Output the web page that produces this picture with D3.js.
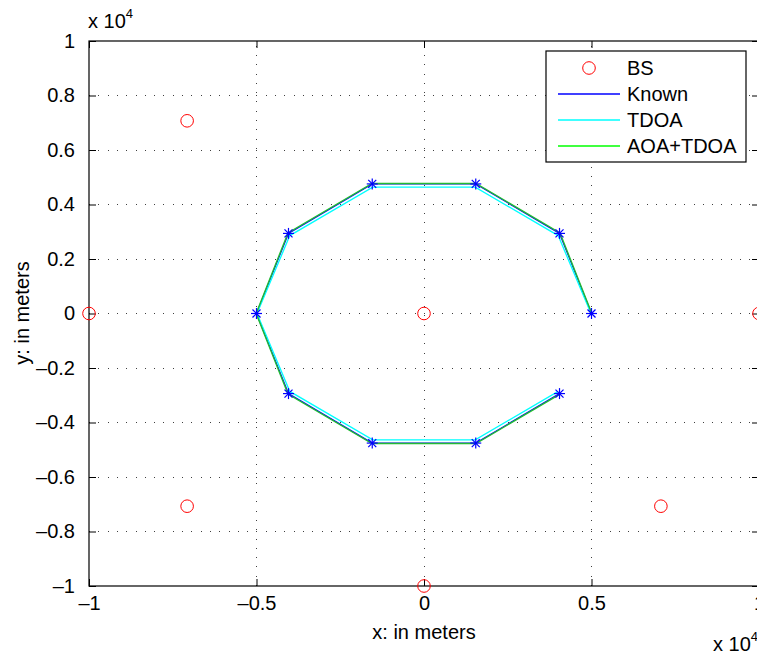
<!DOCTYPE html>
<html><head><meta charset="utf-8">
<script src="https://cdn.jsdelivr.net/npm/d3@7"></script>
<style>body{margin:0;background:#fff;overflow:hidden}svg{display:block}text{font-family:"Liberation Sans",Arial,sans-serif}</style>
</head><body>
<script>
const bsX = [0, -10000, 10000, -7071, 7071, -7071, 7071, 0];
const bsY = [0, 0, 0, 7071, 7071, -7071, -7071, -10000];
const knownX = [5000, 4045, 1545, -1545, -4045, -5000, -4045, -1545, 1545, 4045];
const knownY = [0, 2939, 4755, 4755, 2939, 0, -2939, -4755, -4755, -2939];
const tdoaX = [4985, 4005, 1530, -1530, -4005, -4985, -4005, -1530, 1530, 4005];
const tdoaY = [0, 2860, 4635, 4635, 2860, 0, -2860, -4635, -4635, -2860];
const aoaX = [5010, 4060, 1550, -1550, -4060, -5010, -4060, -1550, 1550, 4060];
const aoaY = [0, 2955, 4770, 4770, 2955, 0, -2955, -4770, -4770, -2955];
const xTicks = [-10000, -5000, 0, 5000, 10000];
const xTickLabels = ["\u20131", "\u20130.5", "0", "0.5", "1"];
const yTicks = [-10000, -8000, -6000, -4000, -2000, 0, 2000, 4000, 6000, 8000, 10000];
const yTickLabels = ["\u20131", "\u20130.8", "\u20130.6", "\u20130.4", "\u20130.2", "0", "0.2", "0.4", "0.6", "0.8", "1"];
const legendNames = ["BS", "Known", "TDOA", "AOA+TDOA"];
const colors = {bs: "#ff0000", known: "#0000ff", tdoa: "#00ffff", aoa: "#00ff00"};

const W = 757, H = 653, FS = 20;
const L = 89, R = 759, T = 41, B = 586;
const x = d3.scaleLinear().domain([-10000, 10000]).range([L, R]);
const y = d3.scaleLinear().domain([-10000, 10000]).range([B, T]);

const svg = d3.select("body").append("svg").attr("width", W).attr("height", H);

// grid
const grid = svg.append("g").attr("stroke", "#000").attr("stroke-width", 1).attr("stroke-dasharray", "1,8.3").attr("opacity", 0.75);
xTicks.slice(1, -1).forEach(v => grid.append("line").attr("x1", x(v)).attr("x2", x(v)).attr("y1", B).attr("y2", T).attr("shape-rendering", "crispEdges"));
yTicks.slice(1, -1).forEach(v => grid.append("line").attr("x1", L).attr("x2", R).attr("y1", y(v)).attr("y2", y(v)).attr("shape-rendering", "crispEdges"));

// axes with inward ticks
const axB = svg.append("g").attr("transform", `translate(0,${B})`).call(d3.axisBottom(x).tickValues(xTicks).tickSize(-7).tickPadding(10).tickFormat((d, i) => xTickLabels[i]));
const axT = svg.append("g").attr("transform", `translate(0,${T})`).call(d3.axisTop(x).tickValues(xTicks).tickSize(-7).tickFormat(""));
const axL = svg.append("g").attr("transform", `translate(${L},0)`).call(d3.axisLeft(y).tickValues(yTicks).tickSize(-7).tickPadding(14).tickFormat((d, i) => yTickLabels[i]));
const axR = svg.append("g").attr("transform", `translate(${R},0)`).call(d3.axisRight(y).tickValues(yTicks).tickSize(-7).tickFormat(""));
[axB, axT, axL, axR].forEach(a => {
  a.selectAll(".domain").remove();
  a.selectAll("line").attr("stroke", "#000");
  a.selectAll("text").attr("font-size", FS).attr("fill", "#000").attr("font-family", '"Liberation Sans",Arial,sans-serif');
});
svg.append("rect").attr("x", L).attr("y", T).attr("width", R - L).attr("height", B - T).attr("fill", "none").attr("stroke", "#000").attr("stroke-width", 1.2);

// data
const line = d3.line().x(d => x(d[0])).y(d => y(d[1]));
const zip = (a, b) => a.map((v, i) => [v, b[i]]);
svg.append("g").selectAll("circle").data(zip(bsX, bsY)).join("circle")
  .attr("cx", d => x(d[0])).attr("cy", d => y(d[1])).attr("r", 6.3)
  .attr("fill", "none").attr("stroke", colors.bs).attr("stroke-width", 1);
svg.append("path").attr("d", line(zip(knownX, knownY))).attr("fill", "none").attr("stroke", colors.known).attr("stroke-width", 1.2);
svg.append("path").attr("d", line(zip(tdoaX, tdoaY))).attr("fill", "none").attr("stroke", colors.tdoa).attr("stroke-width", 1.3);
svg.append("path").attr("d", line(zip(aoaX, aoaY))).attr("fill", "none").attr("stroke", "#22bb33").attr("stroke-width", 1.4);
const star = svg.append("g").attr("stroke", colors.known).attr("stroke-width", 1.2);
zip(knownX, knownY).forEach(d => {
  const cx = x(d[0]), cy = y(d[1]), s = 5.5, t = 4;
  star.append("line").attr("x1", cx - s).attr("x2", cx + s).attr("y1", cy).attr("y2", cy);
  star.append("line").attr("x1", cx).attr("x2", cx).attr("y1", cy - s).attr("y2", cy + s);
  star.append("line").attr("x1", cx - t).attr("x2", cx + t).attr("y1", cy - t).attr("y2", cy + t);
  star.append("line").attr("x1", cx - t).attr("x2", cx + t).attr("y1", cy + t).attr("y2", cy - t);
});

// legend
const lg = svg.append("g");
lg.append("rect").attr("x", 546).attr("y", 51).attr("width", 200).attr("height", 111).attr("fill", "#fff").attr("stroke", "#000").attr("stroke-width", 1.2);
const rowsY = [68, 94, 120, 146];
lg.append("circle").attr("cx", 589).attr("cy", rowsY[0]).attr("r", 6.3).attr("fill", "none").attr("stroke", colors.bs);
[colors.known, colors.tdoa, colors.aoa].forEach((c, i) => lg.append("line").attr("x1", 558).attr("x2", 620).attr("y1", rowsY[i + 1]).attr("y2", rowsY[i + 1]).attr("stroke", c).attr("stroke-width", 1.3));
legendNames.forEach((n, i) => lg.append("text").attr("x", 627).attr("y", rowsY[i] + 7).attr("font-size", FS).text(n));

// labels
svg.append("text").attr("x", 424).attr("y", 639).attr("text-anchor", "middle").attr("font-size", FS).text("x: in meters");
svg.append("text").attr("transform", "translate(29,313) rotate(-90)").attr("text-anchor", "middle").attr("font-size", FS).text("y: in meters");
const e1 = svg.append("text").attr("x", 88).attr("y", 28).attr("font-size", FS);
e1.append("tspan").text("x 10");
e1.append("tspan").attr("dy", -10).attr("font-size", 13).text("4");
const e2 = svg.append("text").attr("x", 713).attr("y", 651).attr("font-size", FS);
e2.append("tspan").text("x 10");
e2.append("tspan").attr("dy", -10).attr("font-size", 13).text("4");
</script>
</body></html>
